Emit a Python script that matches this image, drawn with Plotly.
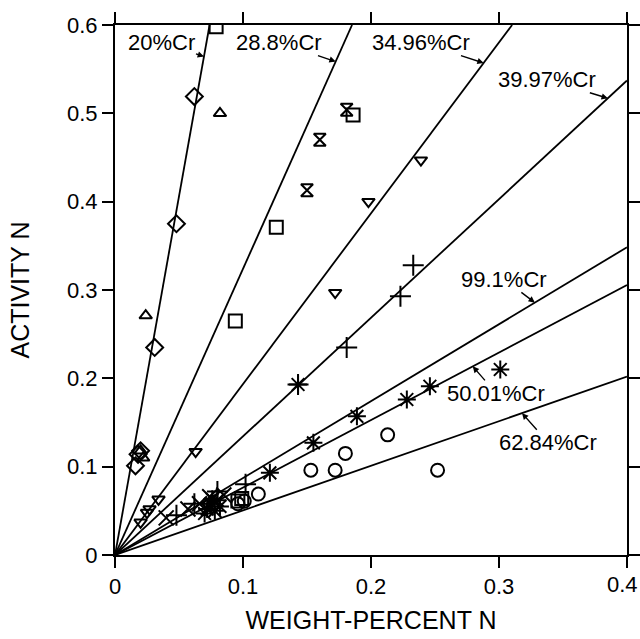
import plotly.graph_objects as go

# ---- data ----
line_labels = ["20%Cr", "28.8%Cr", "34.96%Cr", "39.97%Cr", "99.1%Cr", "50.01%Cr", "62.84%Cr"]
line_slopes = [8.12, 3.24, 1.934, 1.343, 0.871, 0.764, 0.505]

diamond_x = [0.062, 0.048, 0.031, 0.018, 0.016, 0.020]
diamond_y = [0.519, 0.375, 0.235, 0.114, 0.101, 0.118]

triup_x = [0.082, 0.024, 0.020, 0.022]
triup_y = [0.500, 0.271, 0.118, 0.110]

square_x = [0.079, 0.186, 0.126, 0.094, 0.096, 0.099]
square_y = [0.598, 0.498, 0.371, 0.265, 0.061, 0.064]

hour_x = [0.181, 0.160, 0.150]
hour_y = [0.504, 0.470, 0.413]

tridown_x = [0.239, 0.198, 0.172, 0.063, 0.034, 0.025, 0.027, 0.020]
tridown_y = [0.447, 0.400, 0.297, 0.117, 0.063, 0.048, 0.052, 0.037]

plus_x = [0.233, 0.223, 0.181, 0.143, 0.102, 0.080, 0.062, 0.048]
plus_y = [0.328, 0.293, 0.235, 0.193, 0.080, 0.072, 0.058, 0.045]

ast_x = [0.301, 0.246, 0.228, 0.189, 0.155, 0.121, 0.143,
         0.075, 0.078, 0.072, 0.080, 0.070, 0.076, 0.082]
ast_y = [0.210, 0.191, 0.176, 0.157, 0.127, 0.093, 0.193,
         0.058, 0.050, 0.052, 0.062, 0.047, 0.063, 0.055]

circ_x = [0.213, 0.180, 0.153, 0.172, 0.252, 0.112, 0.096, 0.101]
circ_y = [0.136, 0.115, 0.096, 0.096, 0.096, 0.069, 0.058, 0.061]

xm_x = [0.040, 0.057, 0.066, 0.085, 0.074]
xm_y = [0.042, 0.052, 0.058, 0.068, 0.066]

x_ticks = [0, 0.1, 0.2, 0.3, 0.4]
x_tick_text = ["0", "0.1", "0.2", "0.3", "0.4"]
y_ticks = [0, 0.1, 0.2, 0.3, 0.4, 0.5, 0.6]
y_tick_text = ["0", "0.1", "0.2", "0.3", "0.4", "0.5", "0.6"]

X_MAX, Y_MAX = 0.4, 0.6
FONT = "Liberation Sans, Arial, sans-serif"

fig = go.Figure()

# fit lines through origin
for lab, s in zip(line_labels, line_slopes):
    xe = min(X_MAX, Y_MAX / s)
    fig.add_trace(go.Scatter(x=[0, xe], y=[0, s * xe], mode="lines",
                             line=dict(color="black", width=1.8),
                             hoverinfo="skip", showlegend=False, cliponaxis=False))

def add_markers(xs, ys, symbol, size=12):
    fig.add_trace(go.Scatter(x=xs, y=ys, mode="markers", showlegend=False,
                             marker=dict(symbol=symbol, size=size, color="black",
                                         line=dict(color="black", width=2))))

add_markers(diamond_x, diamond_y, "diamond-open", 13)
add_markers(triup_x, triup_y, "triangle-up-open", 11)
add_markers(square_x, square_y, "square-open", 13)
add_markers(hour_x, hour_y, "hourglass-open", 12)
add_markers(tridown_x, tridown_y, "triangle-down-open", 11)
add_markers(plus_x, plus_y, "cross-thin-open", 15)
add_markers(ast_x, ast_y, "asterisk-open", 15)
add_markers(circ_x, circ_y, "circle-open", 13)
add_markers(xm_x, xm_y, "x-thin-open", 15)

# labels with small leader arrows (text centre, arrow-head x on the line)
label_text_pos = [(0.0367, 0.580), (0.1282, 0.580), (0.2388, 0.580), (0.3378, 0.538),
                  (0.3041, 0.312), (0.2979, 0.183), (0.3385, 0.127)]
label_head_x = [0.0695, 0.1724, 0.288, 0.385, 0.328, 0.2795, 0.318]
for lab, s, (tx, ty), hx in zip(line_labels, line_slopes, label_text_pos, label_head_x):
    fig.add_annotation(x=hx, y=s * hx, ax=tx, ay=ty, axref="x", ayref="y",
                       text=lab, showarrow=True, arrowhead=2, arrowsize=0.9,
                       arrowwidth=1.4, arrowcolor="black", borderpad=0,
                       font=dict(family=FONT, size=22, color="black"))

# the last x tick label sits at the page edge: draw it as text kept inside the page
shown_x_text = x_tick_text[:-1] + [""]
fig.add_annotation(x=x_ticks[-1], xref="x", y=0, yref="paper", yanchor="top",
                   xanchor="right", xshift=12, yshift=-16, showarrow=False,
                   text=x_tick_text[-1], borderpad=0,
                   font=dict(family=FONT, size=22, color="black"))

axis_common = dict(showline=True, linecolor="black", linewidth=2, mirror="ticks",
                   ticks="outside", ticklen=11, tickwidth=2, tickcolor="black",
                   showgrid=False, zeroline=False, automargin=False,
                   tickfont=dict(family=FONT, size=22, color="black"))

fig.update_xaxes(range=[0, X_MAX], tickvals=x_ticks, ticktext=shown_x_text,
                 title=dict(text="WEIGHT-PERCENT N", standoff=13,
                            font=dict(family=FONT, size=25, color="black")),
                 **axis_common)
fig.update_yaxes(range=[0, Y_MAX], tickvals=y_ticks, ticktext=y_tick_text,
                 title=dict(text="ACTIVITY N", standoff=30,
                            font=dict(family=FONT, size=25, color="black")),
                 **axis_common)

fig.update_layout(width=640, height=639, margin=dict(l=115, r=13, t=25, b=84),
                  plot_bgcolor="white", paper_bgcolor="white", showlegend=False)

fig.write_html("out.html")
